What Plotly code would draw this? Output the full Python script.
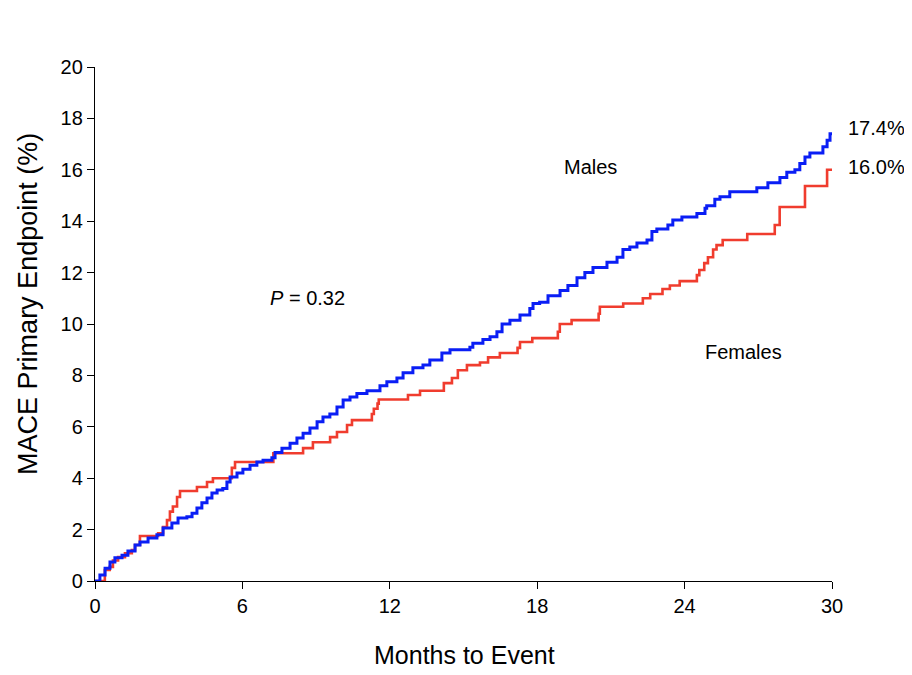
import plotly.graph_objects as go

# Kaplan-Meier style cumulative event curves (months, %)
male_t = [0, 0.2, 0.41, 0.61, 0.81, 1.1, 1.34, 1.63, 1.83, 2.16, 2.52, 2.77, 3.13, 3.38, 3.74,
          3.95, 4.15, 4.35, 4.56, 4.76, 4.97, 5.2, 5.37, 5.5, 5.78, 6.02, 6.31, 6.59, 6.84, 7.2,
          7.33, 7.61, 7.94, 8.22, 8.47, 8.75, 9.04, 9.28, 9.56, 9.85, 10.1, 10.38, 10.66, 11.07,
          11.6, 11.88, 12.29, 12.54, 12.94, 13.35, 13.63, 14.12, 14.45, 15.26, 15.38, 15.79,
          16.08, 16.36, 16.57, 16.89, 17.3, 17.7, 17.83, 18.1, 18.44, 18.93, 19.25, 19.62,
          19.94, 20.27, 20.84, 21.25, 21.49, 21.77, 22.06, 22.47, 22.67, 22.87, 23.32, 23.52,
          23.89, 24.5, 24.83, 24.9, 25.23, 25.44, 25.84, 26.94, 27.39, 27.88, 28.16, 28.49,
          28.69, 28.9, 29.1, 29.63, 29.8, 29.92, 30.0]
male_v = [0, 0.23, 0.5, 0.74, 0.9, 1.0, 1.17, 1.4, 1.52, 1.67, 1.8, 2.06, 2.26, 2.45, 2.5,
          2.64, 2.84, 3.04, 3.23, 3.42, 3.54, 3.6, 3.85, 4.05, 4.2, 4.35, 4.5, 4.63, 4.7, 4.8,
          5.0, 5.17, 5.36, 5.56, 5.75, 5.95, 6.2, 6.38, 6.5, 6.77, 7.04, 7.16, 7.3, 7.4,
          7.6, 7.75, 7.9, 8.1, 8.3, 8.4, 8.6, 8.87, 9.0, 9.1, 9.25, 9.4,
          9.5, 9.7, 10.0, 10.15, 10.35, 10.6, 10.8, 10.85, 11.1, 11.3, 11.5, 11.8,
          12.0, 12.2, 12.4, 12.6, 12.9, 13.0, 13.15, 13.27, 13.6, 13.7, 13.85, 14.05,
          14.16, 14.3, 14.5, 14.6, 14.85, 14.95, 15.15, 15.3, 15.5, 15.7, 15.9, 16.0,
          16.25, 16.5, 16.65, 16.9, 17.15, 17.4, 17.4]

female_t = [0, 0.4, 0.6, 0.73, 0.94, 1.22, 1.5, 1.63, 1.83, 2.57, 2.77, 2.93, 3.05, 3.17, 3.34,
            3.46, 4.15, 4.56, 4.8, 5.57, 5.7, 7.26, 8.47, 8.87, 9.57, 9.85, 10.26, 10.46, 11.27,
            11.35, 11.5, 11.55, 12.74, 13.23, 14.2, 14.53, 14.77, 15.14, 15.67, 16.0, 16.48,
            17.2, 17.3, 17.8, 18.84, 18.92, 19.4, 20.5, 20.55, 21.5, 22.3, 22.6, 23.1, 23.4,
            23.8, 24.5, 24.6, 24.8, 24.95, 25.16, 25.3, 25.55, 26.55, 27.67, 27.87, 28.9, 29.8, 30.0]
female_v = [0, 0.43, 0.55, 0.8, 0.93, 1.08, 1.2, 1.4, 1.75, 1.86, 2.1, 2.37, 2.7, 2.9, 3.27,
            3.5, 3.66, 3.85, 4.0, 4.4, 4.63, 4.97, 5.17, 5.4, 5.6, 5.8, 6.07, 6.26, 6.5,
            6.7, 6.9, 7.06, 7.24, 7.4, 7.7, 7.9, 8.2, 8.4, 8.5, 8.7, 8.87,
            9.07, 9.3, 9.45, 9.7, 10.0, 10.15, 10.4, 10.67, 10.8, 11.0, 11.17, 11.36, 11.5,
            11.67, 11.9, 12.1, 12.37, 12.6, 12.9, 13.07, 13.27, 13.5, 13.85, 14.55, 15.37, 16.0, 16.0]

x_ticks = [0, 6, 12, 18, 24, 30]
y_ticks = [0, 2, 4, 6, 8, 10, 12, 14, 16, 18, 20]

FONT = "Liberation Sans, Arial, sans-serif"

fig = go.Figure()
fig.add_trace(go.Scatter(x=female_t, y=female_v, mode="lines", line_shape="hv",
                         line=dict(color="#f03c2e", width=2.6), name="Females"))
fig.add_trace(go.Scatter(x=male_t, y=male_v, mode="lines", line_shape="hv",
                         line=dict(color="#0a1ef5", width=3), name="Males"))

ann_font = dict(family=FONT, size=20, color="black")
fig.add_annotation(x=20.15, y=16.1, text="Males", showarrow=False, font=ann_font)
fig.add_annotation(x=26.4, y=8.9, text="Females", showarrow=False, font=ann_font)
fig.add_annotation(x=8.67, y=11.0, text="<i>P</i> = 0.32", showarrow=False, font=ann_font)
fig.add_annotation(x=30, y=17.63, text="17.4%", showarrow=False, xanchor="left", xshift=14,
                   font=ann_font)
fig.add_annotation(x=30, y=16.1, text="16.0%", showarrow=False, xanchor="left", xshift=14,
                   font=ann_font)
# axis titles (placed as annotations to match original positions)
fig.add_annotation(xref="paper", yref="paper", x=-0.091, y=0.539, text="MACE Primary Endpoint (%)",
                   textangle=-90, showarrow=False, xanchor="center", yanchor="middle",
                   font=dict(family=FONT, size=27, color="black"))
fig.add_annotation(xref="paper", yref="paper", x=0.5007, y=-0.144, text="Months to Event",
                   showarrow=False, xanchor="center", yanchor="middle",
                   font=dict(family=FONT, size=25, color="black"))

axis_common = dict(showline=True, linecolor="black", linewidth=1.3, ticks="outside",
                   ticklen=7, tickwidth=1.3, tickcolor="black", showgrid=False, zeroline=False,
                   automargin=False,
                   tickfont=dict(family=FONT, size=20, color="black"))

fig.update_xaxes(range=[0, 30], tickvals=x_ticks, ticktext=[str(v) for v in x_ticks],
                 **axis_common)
fig.update_yaxes(range=[0, 20], tickvals=y_ticks, ticktext=[str(v) for v in y_ticks],
                 **axis_common)

fig.update_layout(width=896, height=667, showlegend=False,
                  margin=dict(l=87, r=72, t=59, b=94),
                  plot_bgcolor="white", paper_bgcolor="white",
                  font=dict(family=FONT, color="black"))

fig.write_html("out.html")
